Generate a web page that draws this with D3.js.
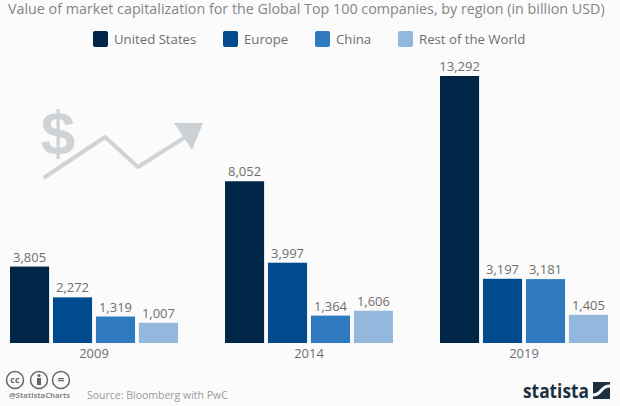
<!DOCTYPE html>
<html>
<head>
<meta charset="utf-8">
<script src="https://cdn.jsdelivr.net/npm/d3@7"></script>
<style>
  html, body { margin: 0; padding: 0; background: #fbfbfb; }
  svg { display: block; }
  text { font-family: "Open Sans", sans-serif; }
</style>
</head>
<body>
<div id="viz"></div>
<script>
const years = ["2009", "2014", "2019"];
const regions = ["United States", "Europe", "China", "Rest of the World"];
const unitedStates = [3805, 8052, 13292];
const europe = [2272, 3997, 3197];
const china = [1319, 1364, 3181];
const restOfWorld = [1007, 1606, 1405];
const colors = ["#002647", "#004b8d", "#2f7abf", "#93b8de"];
const seriesValues = [unitedStates, europe, china, restOfWorld];

const width = 620;
const height = 406;
const textColor = "#6f6f6f";

const svg = d3.select("#viz")
    .append("svg")
    .attr("width", width)
    .attr("height", height);

svg.append("rect")
    .attr("width", width)
    .attr("height", height)
    .attr("fill", "#fbfbfb");

// Title
svg.append("text")
    .attr("x", 8)
    .attr("y", 14)
    .attr("font-size", 14.3)
    .attr("fill", "#858585")
    .text("Value of market capitalization for the Global Top 100 companies, by region (in billion USD)");

// Legend
const legendX = [93, 223, 315, 398];
const legend = svg.append("g");
regions.forEach((name, i) => {
    legend.append("rect")
        .attr("x", legendX[i])
        .attr("y", 31)
        .attr("width", 15)
        .attr("height", 16)
        .attr("rx", 2)
        .attr("fill", colors[i]);
    legend.append("text")
        .attr("x", legendX[i] + 21)
        .attr("y", 44)
        .attr("font-size", 13.2)
        .attr("fill", textColor)
        .text(name);
});

// Decoration behind the bars
const deco = svg.append("g");
deco.append("text")
    .attr("x", 58)
    .attr("y", 154)
    .attr("text-anchor", "middle")
    .style("font-family", "'Liberation Sans', sans-serif")
    .attr("font-size", 62)
    .attr("font-weight", "bold")
    .attr("fill", "#d0d3d6")
    .text("$");
deco.append("path")
    .attr("d", "M45,177L105,137L138,167L187,136")
    .attr("fill", "none")
    .attr("stroke", "#d0d3d6")
    .attr("stroke-width", 4)
    .attr("stroke-linecap", "round")
    .attr("stroke-linejoin", "round");
deco.append("path")
    .attr("d", "M174,123L203,123L192,150Z")
    .attr("fill", "#ccd1d5");

// Scales
const yScale = d3.scaleLinear()
    .domain([0, 13292])
    .range([343, 76]);

const xScale = d3.scaleBand()
    .domain(years)
    .range([10, 608])
    .paddingInner(0.2186);

const innerScale = d3.scaleBand()
    .domain(regions)
    .range([0, xScale.bandwidth()])
    .paddingInner(0.09);

const xAxis = svg.append("g")
    .attr("transform", "translate(0, 343)")
    .call(d3.axisBottom(xScale).tickSize(0).tickPadding(6));
xAxis.select(".domain").remove();
xAxis.selectAll("text")
    .attr("font-size", 13)
    .attr("fill", textColor)
    .style("font-family", "'Open Sans', sans-serif");

// Bars
const format = d3.format(",");
const groups = svg.selectAll(".year")
    .data(years)
    .enter()
    .append("g")
    .attr("class", "year")
    .attr("transform", d => `translate(${xScale(d)}, 0)`);

regions.forEach((name, s) => {
    groups.append("rect")
        .attr("x", innerScale(name))
        .attr("y", (d, i) => yScale(seriesValues[s][i]))
        .attr("width", innerScale.bandwidth())
        .attr("height", (d, i) => yScale(0) - yScale(seriesValues[s][i]))
        .attr("fill", colors[s]);
    groups.append("text")
        .attr("x", innerScale(name) + innerScale.bandwidth() / 2)
        .attr("y", (d, i) => yScale(seriesValues[s][i]) - 5)
        .attr("text-anchor", "middle")
        .attr("font-size", 13)
        .attr("fill", textColor)
        .text((d, i) => format(seriesValues[s][i]));
});

// Footer: licence badges
const badges = svg.append("g");
[["cc", 15], ["", 39], ["=", 61]].forEach(([label, cx]) => {
    badges.append("circle")
        .attr("cx", cx)
        .attr("cy", 380)
        .attr("r", 8.5)
        .attr("fill", "none")
        .attr("stroke", "#666")
        .attr("stroke-width", 1.5);
    badges.append("text")
        .attr("x", cx)
        .attr("y", label === "=" ? 384 : 383)
        .attr("text-anchor", "middle")
        .attr("font-size", label === "=" ? 12 : 9)
        .attr("font-weight", "bold")
        .attr("fill", "#666")
        .text(label);
});
badges.append("circle").attr("cx", 39).attr("cy", 375.5).attr("r", 1.6).attr("fill", "#666");
badges.append("rect").attr("x", 37).attr("y", 378).attr("width", 4).attr("height", 7).attr("fill", "#666");

svg.append("text")
    .attr("x", 9)
    .attr("y", 398)
    .attr("font-size", 7.6)
    .attr("font-weight", "bold")
    .attr("fill", "#8a8a8a")
    .text("@StatistaCharts");

svg.append("text")
    .attr("x", 87)
    .attr("y", 399)
    .attr("font-size", 10.5)
    .attr("fill", "#9a9a9a")
    .text("Source: Bloomberg with PwC");

// Statista logo
svg.append("text")
    .attr("x", 523)
    .attr("y", 398)
    .attr("font-size", 20)
    .attr("font-weight", "bold")
    .attr("textLength", 66)
    .attr("lengthAdjust", "spacingAndGlyphs")
    .attr("fill", "#1d3040")
    .text("statista");

svg.append("rect")
    .attr("x", 593)
    .attr("y", 382)
    .attr("width", 17)
    .attr("height", 17)
    .attr("fill", "#1d3040");
svg.append("path")
    .attr("d", "M593,395C602,395 600,386 610,386")
    .attr("fill", "none")
    .attr("stroke", "#fbfbfb")
    .attr("stroke-width", 3);
</script>
</body>
</html>
